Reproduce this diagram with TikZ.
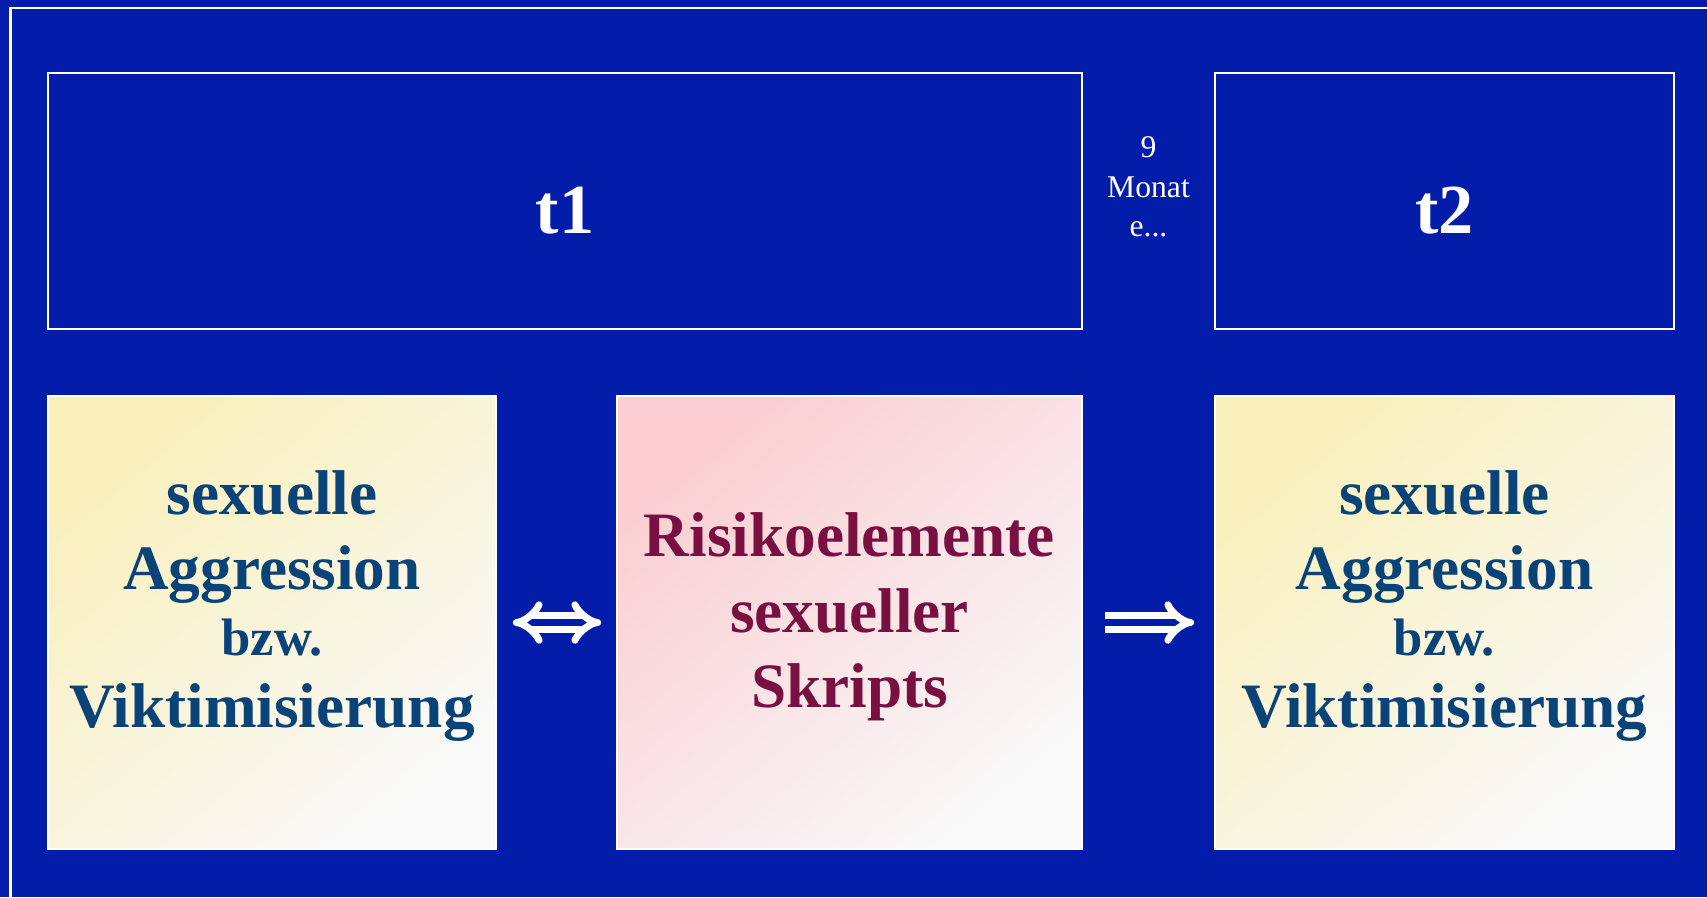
\documentclass[tikz,border=0pt]{standalone}
\usepackage{fontspec}
\setmainfont{Liberation Serif}
\usetikzlibrary{arrows.meta}
\definecolor{bgblue}{RGB}{3,29,170}
\definecolor{txtblue}{RGB}{10,67,120}
\definecolor{txtred}{RGB}{122,16,66}
\definecolor{paleyellow}{RGB}{249,240,188}
\definecolor{palepink}{RGB}{250,206,210}
\definecolor{offwhite}{RGB}{249,249,249}
\tikzset{
    timebox/.style={draw=white, line width=1.4pt, minimum width=#1*0.02cm, minimum height=256*0.02cm, inner sep=0pt,
        text=white, text height=37pt, font=\fontsize{40}{40}\selectfont\bfseries},
    varbox/.style={draw=white, line width=1pt, minimum width=#1*0.02cm, minimum height=453*0.02cm, inner sep=0pt,
        align=center, font=\fontsize{36}{43}\selectfont\bfseries},
    yellowfill/.style={shading=axis, top color=paleyellow, bottom color=offwhite, shading angle=40},
    pinkfill/.style={shading=axis, top color=palepink, bottom color=offwhite, shading angle=40},
    dblarrow/.style={draw=white, line width=4pt, double=bgblue, double distance=3.6pt}
}
\newcommand{\botstrut}[1]{\rule[-#1]{0pt}{#1}}
\begin{document}
\begin{tikzpicture}[x=0.02cm, y=-0.02cm]
        \useasboundingbox (0, 0) rectangle (1707, 897);
        \fill[bgblue] (0, 0) rectangle (1707, 897);
        \draw[white, line width=1.5pt] (10.5, 8) rectangle (1730, 920);
        % time points
        \node[timebox=1034] (t1) at (565, 201) {t1};
        \node[timebox=459] (t2) at (1444.5, 201) {t2};
        \node[white, align=center, font=\fontsize{18}{22.5}\selectfont] (gap) at (1148.5, 187) {9\\Monat\\e...};
        % measures
        \node[varbox=448, yellowfill, text=txtblue] (agg1) at (272, 622.5)
            {sexuelle\\Aggression\\[-6pt]{\fontsize{30}{37}\selectfont bzw.}\\[-2pt]Viktimisierung\botstrut{27pt}};
        \node[varbox=465, pinkfill, text=txtred] (risk) at (849.5, 622.5)
            {Risikoelemente\\sexueller\\Skripts\botstrut{14pt}};
        \node[varbox=459, yellowfill, text=txtblue] (agg2) at (1444.5, 622.5)
            {sexuelle\\Aggression\\[-6pt]{\fontsize{30}{37}\selectfont bzw.}\\[-2pt]Viktimisierung\botstrut{27pt}};
        \draw[dblarrow, {Implies[length=9pt, width=24pt]}-{Implies[length=9pt, width=24pt]},
            shorten <=16*0.02cm, shorten >=15*0.02cm] (agg1) -- (risk);
        \draw[dblarrow, -{Implies[length=9pt, width=24pt]},
            shorten <=22*0.02cm, shorten >=20*0.02cm] (risk) -- (agg2);
    \end{tikzpicture}
\end{document}
